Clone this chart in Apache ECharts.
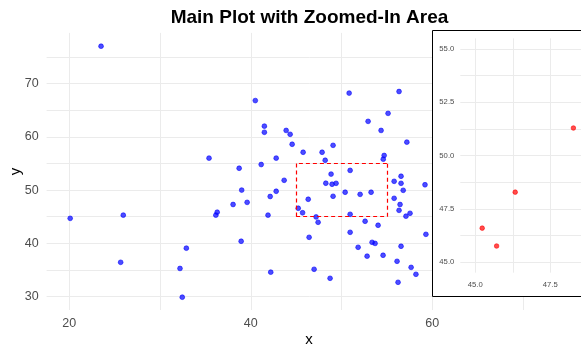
<!DOCTYPE html>
<html><head><meta charset="utf-8">
<script src="https://cdn.jsdelivr.net/npm/echarts@6/dist/echarts.min.js"></script>
<style>html,body{margin:0;padding:0;background:#fff}#c{width:581px;height:355px}</style>
</head><body><div id="c"></div>
<script>
// ---- data ----
const xValues = [23.5, 35.4, 20.1, 25.95, 25.66, 32.9, 32.2, 32.45, 36.15, 36.3,
  38.05, 38.72, 40.5, 41.5, 41.5, 41.15, 42.8, 43.9, 44.34, 44.56,
  45.77, 47.86, 48.2, 49.07, 48.85, 50.84, 50.95, 52.93, 54.36, 55.13,
  56.34, 57.2, 54.7, 54.6, 56.56, 43.68, 39.0, 39.6, 42.14, 42.8,
  41.9, 38.94, 42.2, 45.23, 45.71, 46.33, 47.2, 47.42, 46.43, 46.98,
  48.74, 48.27, 48.96, 49.4, 49.07, 50.4, 50.95, 50.95, 52.05, 53.26,
  52.6, 54.03, 53.37, 53.7, 51.83, 52.82, 54.58, 55.8, 56.56, 56.8,
  55.8, 56.45, 56.34, 57.55, 57.1, 59.2, 59.3, 56.56, 56.12, 57.67,
  58.2, 56.23];
const yValues = [77.0, 56.0, 44.7, 45.3, 36.45, 39.1, 35.3, 29.9, 45.3, 45.85,
  47.3, 54.1, 66.8, 62.0, 60.85, 54.8, 56.0, 61.2, 60.47, 58.6,
  57.1, 57.1, 55.6, 58.4, 53.0, 68.2, 53.7, 62.9, 61.2, 64.4,
  68.5, 59.0, 56.5, 55.8, 52.6, 51.84, 50.0, 47.7, 48.8, 49.78,
  45.3, 40.4, 34.6, 46.59, 45.75, 48.28, 44.96, 43.96, 41.14, 35.14,
  33.45, 51.29, 51.1, 51.27, 48.84, 49.6, 45.46, 42.08, 49.2, 49.6,
  44.15, 43.4, 40.2, 40.0, 39.27, 37.6, 37.77, 51.65, 51.27, 49.96,
  48.46, 47.3, 46.2, 45.65, 45.1, 51.0, 41.7, 39.46, 36.64, 35.5,
  34.2, 32.7];
const zoomXRange = [45, 55];
const zoomYRange = [45, 55];
const mainXTicks = [20, 40, 60];
const mainYTicks = [30, 40, 50, 60, 70];
const insetXTicks = [45, 47.5, 50, 52.5, 55];
const insetYTicks = [45, 47.5, 50, 52.5, 55];

// ---- derived ----
const points = xValues.map((x, i) => [x, yValues[i]]);
const zoomPoints = points.filter(p => p[0] >= zoomXRange[0] && p[0] <= zoomXRange[1] &&
                                      p[1] >= zoomYRange[0] && p[1] <= zoomYRange[1]);
const x0 = zoomXRange[0], x1 = zoomXRange[1], y0 = zoomYRange[0], y1 = zoomYRange[1];
const rectEdges = [
  [{coord: [x0, y0]}, {coord: [x1, y0]}],
  [{coord: [x1, y0]}, {coord: [x1, y1]}],
  [{coord: [x1, y1]}, {coord: [x0, y1]}],
  [{coord: [x0, y1]}, {coord: [x0, y0]}]
];

const near = (v, list) => list.some(t => Math.abs(t - v) < 1e-6);
const FONT = '"Liberation Sans", Arial, Helvetica, sans-serif';
const GRID = '#EBEBEB';
const T = 'rgba(0,0,0,0)';
const insetColors = [T, T, GRID, T, T];

const chart = echarts.init(document.getElementById('c'), null, {renderer: 'canvas'});
chart.setOption({
  animation: false,
  backgroundColor: '#ffffff',
  grid: [
    {left: 46.6, right: 9, top: 32.9, bottom: 45, containLabel: false, outerBoundsMode: 'none'},
    {left: 460.3, top: 38.35, width: 330, height: 234.3, containLabel: false, outerBoundsMode: 'none', zlevel: 1, z: 5}
  ],
  xAxis: [
    {type: 'value', gridIndex: 0, min: 17.5, max: 75.4, splitNumber: 5,
     axisLine: {show: false}, axisTick: {show: false},
     axisLabel: {color: '#4D4D4D', fontSize: 12.5, fontFamily: FONT, margin: 7,
       showMinLabel: false, showMaxLabel: false,
       formatter: v => near(v, mainXTicks) ? String(Math.round(v)) : ''},
     splitLine: {show: true, showMinLine: false, showMaxLine: false, lineStyle: {color: GRID, width: 1}}},
    {type: 'value', gridIndex: 1, min: 44.5, max: 55.5, interval: 0.25, zlevel: 1, z: 5,
     axisLine: {show: false}, axisTick: {show: false},
     axisLabel: {color: '#4D4D4D', fontSize: 7.7, fontFamily: FONT, margin: 8.5,
       showMinLabel: false, showMaxLabel: false,
       formatter: v => near(v, insetXTicks) ? v.toFixed(1) : ''},
     splitLine: {show: true, lineStyle: {color: insetColors, width: 1}}}
  ],
  yAxis: [
    {type: 'value', gridIndex: 0, min: 27.5, max: 79.5, splitNumber: 10,
     axisLine: {show: false}, axisTick: {show: false},
     axisLabel: {color: '#4D4D4D', fontSize: 12.5, fontFamily: FONT, margin: 8,
       showMinLabel: false, showMaxLabel: false,
       formatter: v => near(v, mainYTicks) ? String(Math.round(v)) : ''},
     splitLine: {show: true, showMinLine: false, showMaxLine: false, lineStyle: {color: GRID, width: 1}}},
    {type: 'value', gridIndex: 1, min: 44.5, max: 55.5, interval: 0.25, zlevel: 1, z: 5,
     axisLine: {show: false}, axisTick: {show: false},
     axisLabel: {color: '#4D4D4D', fontSize: 7.7, fontFamily: FONT, margin: 6,
       showMinLabel: false, showMaxLabel: false,
       formatter: v => near(v, insetYTicks) ? v.toFixed(1) : ''},
     splitLine: {show: true, lineStyle: {color: insetColors, width: 1}}}
  ],
  series: [
    {type: 'scatter', xAxisIndex: 0, yAxisIndex: 0, data: points, symbolSize: 4.8, z: 2,
     itemStyle: {color: 'rgba(0,0,255,0.7)', borderColor: 'rgba(0,0,255,0.7)', borderWidth: 0.8, opacity: 1},
     markLine: {silent: true, symbol: ['none', 'none'], label: {show: false}, z: 3,
       lineStyle: {color: '#FF0000', width: 1.2, type: [4, 3], opacity: 1},
       emphasis: {disabled: true},
       data: rectEdges}},
    {type: 'scatter', xAxisIndex: 1, yAxisIndex: 1, data: zoomPoints, symbolSize: 4.6, zlevel: 1, z: 10,
     itemStyle: {color: 'rgba(255,0,0,0.7)', borderColor: 'rgba(255,0,0,0.7)', borderWidth: 0.8, opacity: 1}}
  ],
  graphic: [
    {type: 'rect', zlevel: 1, z: 0, shape: {x: 432.5, y: 30.5, width: 200, height: 266},
     style: {fill: '#ffffff', stroke: '#000000', lineWidth: 1}},
    {type: 'text', x: 309.5, y: 17.5,
     style: {text: 'Main Plot with Zoomed-In Area', fontSize: 19, fontWeight: 'bold', fontFamily: FONT,
       fill: '#000', align: 'center', verticalAlign: 'middle', textAlign: 'center', textVerticalAlign: 'middle'}},
    {type: 'text', x: 309, y: 339.5,
     style: {text: 'x', fontSize: 15, fontFamily: FONT, fill: '#000',
       align: 'center', verticalAlign: 'middle', textAlign: 'center', textVerticalAlign: 'middle'}},
    {type: 'text', x: 15.5, y: 171.5, rotation: Math.PI / 2,
     style: {text: 'y', fontSize: 15, fontFamily: FONT, fill: '#000',
       align: 'center', verticalAlign: 'middle', textAlign: 'center', textVerticalAlign: 'middle'}}
  ]
});
</script></body></html>
